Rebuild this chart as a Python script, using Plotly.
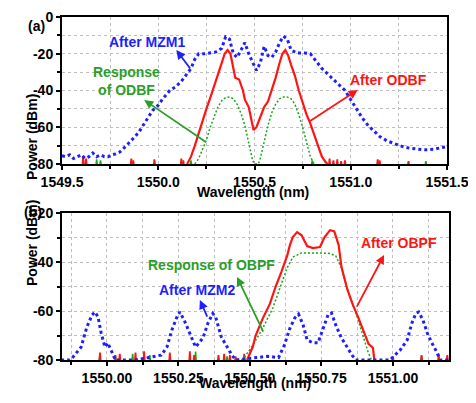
import plotly.graph_objects as go

# ---------------- Panel (a) data ----------------
a_blue_x = [1549.50, 1549.52, 1549.54, 1549.56, 1549.58, 1549.60, 1549.62, 1549.64, 1549.66, 1549.68,
            1549.70, 1549.72, 1549.74, 1549.76, 1549.78, 1549.80, 1549.83, 1549.85, 1549.88, 1549.90,
            1549.94, 1549.97, 1550.00, 1550.02, 1550.06, 1550.09, 1550.12, 1550.15, 1550.17, 1550.19,
            1550.21, 1550.24, 1550.27, 1550.30, 1550.33, 1550.35, 1550.37, 1550.39, 1550.41, 1550.43,
            1550.45, 1550.47, 1550.49, 1550.51, 1550.53, 1550.55, 1550.57, 1550.59, 1550.61, 1550.63,
            1550.65, 1550.67, 1550.69, 1550.72, 1550.76, 1550.79, 1550.82, 1550.85, 1550.88, 1550.91,
            1550.94, 1550.97, 1551.00, 1551.03, 1551.06, 1551.09, 1551.12, 1551.15, 1551.19, 1551.23,
            1551.27, 1551.31, 1551.35, 1551.39, 1551.43, 1551.47, 1551.50]
a_blue_y = [-75.5, -76, -75, -77, -76, -75, -77, -76, -74, -76,
            -75, -76, -76, -75, -74.5, -73.5, -70.5, -68.5, -65, -62.5,
            -56, -51, -48, -45, -40, -38, -35, -31, -28, -23,
            -20, -20, -19.5, -19, -17, -10.8, -12, -20, -22, -18,
            -14, -20, -25, -29, -25, -16, -21, -22, -19, -14,
            -10.5, -12, -18, -19.6, -19.6, -20, -24, -28, -31, -34,
            -37, -40, -45, -50, -55, -59, -62, -65, -67.5, -69,
            -70.5, -71.5, -72, -72.3, -72, -71, -70.5]

a_red_x = [1550.15, 1550.17, 1550.19, 1550.21, 1550.23, 1550.25, 1550.27, 1550.29, 1550.31, 1550.33,
           1550.345, 1550.36, 1550.375, 1550.39, 1550.40, 1550.42, 1550.44, 1550.45, 1550.47, 1550.48,
           1550.495, 1550.51, 1550.53, 1550.55, 1550.57, 1550.59, 1550.61, 1550.63, 1550.645, 1550.66,
           1550.675, 1550.69, 1550.71, 1550.73, 1550.75, 1550.77, 1550.79, 1550.81, 1550.83, 1550.85,
           1550.87, 1550.88]
a_red_y = [-80, -76, -70, -63, -56, -50, -44, -38, -31, -25,
           -20, -18, -20, -27, -33, -34, -40, -45, -49, -54,
           -61.5, -60, -54, -49, -46, -40, -33, -25, -20, -18,
           -21, -26, -32, -40, -47, -53, -58, -64, -70, -76,
           -79, -80]

a_green_x = [1550.19, 1550.21, 1550.23, 1550.25, 1550.27, 1550.29, 1550.31, 1550.33, 1550.35, 1550.37,
             1550.39, 1550.41, 1550.43, 1550.45, 1550.47, 1550.49, 1550.50, 1550.52, 1550.53, 1550.55,
             1550.57, 1550.59, 1550.61, 1550.63, 1550.65, 1550.67, 1550.69, 1550.71, 1550.73, 1550.75,
             1550.77, 1550.79, 1550.81]
a_green_y = [-80, -77, -72, -67, -60, -54, -49, -45.5, -43.8, -43.5,
             -44.5, -47.5, -52.5, -59, -68, -78, -80, -80, -77, -68,
             -59, -52, -47.5, -44.5, -43.5, -43.5, -44.5, -47.5, -53, -60,
             -68, -76, -80]

# noise spikes at the floor (position, peak level)
a_red_spike_x = [1549.61, 1549.625, 1549.86, 1549.87, 1549.98, 1550.12, 1550.13,
                 1550.89, 1550.91, 1550.93, 1550.95, 1550.97, 1551.14, 1551.15, 1551.30]
a_red_spike_h = [-75.5, -77, -77, -78, -77.5, -77, -78,
                 -77, -78, -77.5, -78.5, -78, -77.5, -78, -78.5]
a_green_spike_x = [1549.68, 1549.70, 1550.17, 1550.80, 1551.39]
a_green_spike_h = [-77.5, -78, -78, -78, -78.5]

# ---------------- Panel (b) data ----------------
b_blue_x = [1549.84, 1549.87, 1549.88, 1549.91, 1549.93, 1549.948, 1549.958, 1549.969, 1549.98, 1549.993,
            1550.003, 1550.017, 1550.03, 1550.10, 1550.19, 1550.21, 1550.227, 1550.245, 1550.255, 1550.27,
            1550.29, 1550.31, 1550.336, 1550.353, 1550.37, 1550.38, 1550.40, 1550.42, 1550.437, 1550.45,
            1550.53, 1550.56, 1550.60, 1550.62, 1550.64, 1550.657, 1550.67, 1550.686, 1550.70, 1550.72,
            1550.738, 1550.755, 1550.773, 1550.785, 1550.80, 1550.82, 1550.84, 1550.857, 1550.87, 1550.99,
            1551.007, 1551.025, 1551.05, 1551.066, 1551.08, 1551.09, 1551.105, 1551.12, 1551.136, 1551.153,
            1551.165, 1551.20]
b_blue_y = [-80, -80, -79, -74.7, -66.5, -61.6, -60.4, -62.4, -69, -74.7,
            -73, -76.6, -80, -80, -78, -74.7, -67.8, -62.4, -60.4, -63.7,
            -69, -74.7, -71, -65, -61, -62.4, -70.6, -74.7, -78, -80,
            -79, -78.5, -79, -74, -67, -62.8, -61.3, -65.7, -71.8, -73,
            -73, -67, -61.6, -60.8, -65.7, -71, -75, -78, -80, -80,
            -78, -76, -71.8, -65, -61, -60.4, -63.7, -69, -73, -76.7,
            -80, -80]

b_red_x = [1550.49, 1550.50, 1550.51, 1550.52, 1550.545, 1550.57, 1550.59, 1550.61, 1550.63, 1550.64,
           1550.65, 1550.665, 1550.68, 1550.70, 1550.72, 1550.745, 1550.76, 1550.78, 1550.795, 1550.81,
           1550.82, 1550.84, 1550.86, 1550.88, 1550.90, 1550.915, 1550.93, 1550.935]
b_red_y = [-80, -77, -74.6, -70, -63, -57, -50, -44, -37.5, -33,
           -29.8, -27.8, -29, -33.5, -34.3, -33.9, -30, -27, -27.5, -33,
           -42, -51, -57.5, -63, -69, -73.5, -75, -80]

b_green_x = [1550.47, 1550.48, 1550.51, 1550.545, 1550.58, 1550.605, 1550.63, 1550.65, 1550.68, 1550.745,
             1550.78, 1550.80, 1550.82, 1550.843, 1550.873, 1550.895, 1550.913, 1550.925]
b_green_y = [-80, -79, -74, -67, -58.8, -50.6, -42.4, -38, -36.3, -36.3,
             -36.5, -37.5, -42.4, -52, -61.6, -70, -76.7, -80]

b_red_spike_x = [1549.976, 1550.03, 1550.045, 1550.10, 1550.13, 1550.22, 1550.29, 1550.305,
                 1550.39, 1550.41, 1550.43, 1550.45, 1550.48, 1551.00, 1551.10, 1551.16, 1551.19]
b_red_spike_h = [-77, -78, -77.5, -77, -76.5, -77, -76.5, -78,
                 -78, -77.5, -78, -78.5, -77.5, -78.5, -78, -77.5, -78]
b_green_spike_x = [1549.975, 1550.09, 1550.15, 1550.31, 1550.42, 1551.10]
b_green_spike_h = [-78, -77.5, -78, -76.5, -78.5, -78.5]

BLUE = "rgb(30,30,255)"
RED = "rgb(255,20,20)"
GREEN = "rgb(20,170,20)"
TGREEN = "rgb(40,160,40)"
FONT = "Liberation Sans, Arial, sans-serif"


def spikes(xs, hs, base=-80.0, half=0.003):
    px, py = [], []
    for x, h in zip(xs, hs):
        px += [x - half, x, x + half, None]
        py += [base, h, base, None]
    return px, py


fig = go.Figure()

# panel (a)
sx, sy = spikes(a_green_spike_x, a_green_spike_h)
fig.add_trace(go.Scatter(x=sx, y=sy, mode="lines", line=dict(color=GREEN, width=1.5), xaxis="x", yaxis="y"))
sx, sy = spikes(a_red_spike_x, a_red_spike_h)
fig.add_trace(go.Scatter(x=sx, y=sy, mode="lines", line=dict(color=RED, width=1.8), xaxis="x", yaxis="y"))
fig.add_trace(go.Scatter(x=a_green_x, y=a_green_y, mode="lines",
                         line=dict(color=GREEN, width=1.5, dash="2px,2px"), xaxis="x", yaxis="y"))
fig.add_trace(go.Scatter(x=a_red_x, y=a_red_y, mode="lines",
                         line=dict(color=RED, width=2.2), xaxis="x", yaxis="y"))
fig.add_trace(go.Scatter(x=a_blue_x, y=a_blue_y, mode="lines",
                         line=dict(color=BLUE, width=3, dash="3px,3px"), xaxis="x", yaxis="y"))

# panel (b)
sx, sy = spikes(b_green_spike_x, b_green_spike_h, half=0.002)
fig.add_trace(go.Scatter(x=sx, y=sy, mode="lines", line=dict(color=GREEN, width=1.5), xaxis="x2", yaxis="y2"))
sx, sy = spikes(b_red_spike_x, b_red_spike_h, half=0.002)
fig.add_trace(go.Scatter(x=sx, y=sy, mode="lines", line=dict(color=RED, width=1.8), xaxis="x2", yaxis="y2"))
fig.add_trace(go.Scatter(x=b_green_x, y=b_green_y, mode="lines",
                         line=dict(color=GREEN, width=1.5, dash="2px,2px"), xaxis="x2", yaxis="y2"))
fig.add_trace(go.Scatter(x=b_red_x, y=b_red_y, mode="lines",
                         line=dict(color=RED, width=2.2), xaxis="x2", yaxis="y2"))
fig.add_trace(go.Scatter(x=b_blue_x, y=b_blue_y, mode="lines",
                         line=dict(color=BLUE, width=3, dash="3px,3px"), xaxis="x2", yaxis="y2"))

# The page body has an 8px margin: lay out in window pixels, shifted by that offset.
OFF = 8
W, H = 468, 395


def fx(px):
    return (px - OFF) / W


def fy(py):
    return 1 - (py - OFF) / H


tickfont = dict(family=FONT, size=14, color="black", weight="bold")
GC = "rgb(190,190,190)"
common = dict(showline=True, linecolor="black", linewidth=2, mirror=True, ticks="outside",
              ticklen=4, tickwidth=2, tickcolor="black", tickfont=tickfont, zeroline=False,
              showgrid=True, gridcolor=GC, griddash="dot", gridwidth=1, automargin=False)

a_xticks = [1549.5, 1550.0, 1550.5, 1551.0, 1551.5]
a_xlabels = ["1549.5", "1550.0", "1550.5", "1551.0", "1551.5"]
a_yticks = [-80, -60, -40, -20, 0]
a_ylabels = ["-80", "-60", "-40", "-20", "0"]
b_xticks = [1550.0, 1550.25, 1550.5, 1550.75, 1551.0]
b_xlabels = ["1550.00", "1550.25", "1550.50", "1550.75", "1551.00"]
b_yticks = [-80, -60, -40, -20]
b_ylabels = ["-80", "-60", "-40", "-20"]

minor_x_a = dict(dtick=0.25, tick0=1549.5, showgrid=True, gridcolor=GC, griddash="dot",
                 ticks="outside", ticklen=3, tickwidth=2, tickcolor="black")
minor_y = dict(dtick=10, showgrid=True, gridcolor=GC, griddash="dot",
               ticks="outside", ticklen=3, tickwidth=2, tickcolor="black")
minor_x_b = dict(dtick=0.125, tick0=1550.0, showgrid=True, gridcolor=GC, griddash="dot",
                 ticks="outside", ticklen=3, tickwidth=2, tickcolor="black")

fig.update_layout(
    template="none",
    width=W, height=H, autosize=False, showlegend=False,
    margin=dict(l=0, r=0, t=0, b=0, pad=0),
    paper_bgcolor="white", plot_bgcolor="white",
    xaxis=dict(domain=[fx(62), fx(447)], range=[1549.5, 1551.5], anchor="y",
               tickvals=a_xticks, ticktext=a_xlabels, minor=minor_x_a, **common),
    yaxis=dict(domain=[fy(164), fy(17)], range=[-80, 0], anchor="x",
               tickvals=a_yticks, ticktext=a_ylabels, minor=minor_y, **common),
    xaxis2=dict(domain=[fx(62), fx(449)], range=[1549.843, 1551.196], anchor="y2",
                tickvals=b_xticks, ticktext=b_xlabels, minor=minor_x_b, **common),
    yaxis2=dict(domain=[fy(360), fy(213)], range=[-80, -20], anchor="x2",
                tickvals=b_yticks, ticktext=b_ylabels, minor=minor_y, **common),
)

bold = lambda c, s=14: dict(family=FONT, size=s, color=c, weight="bold")

ann = []
# panel labels and axis titles
ann.append(dict(text="(a)", x=fx(26), y=fy(16), xref="paper", yref="paper", showarrow=False, font=bold("black", 14)))
ann.append(dict(text="(b)", x=fx(22), y=fy(212), xref="paper", yref="paper", showarrow=False, font=bold("black", 14)))
ann.append(dict(text="Power (dBm)", x=fx(22), y=fy(92), xref="paper", yref="paper", showarrow=False,
                textangle=-90, font=bold("black", 14)))
ann.append(dict(text="Power (dBm)", x=fx(22), y=fy(288), xref="paper", yref="paper", showarrow=False,
                textangle=-90, font=bold("black", 14)))
ann.append(dict(text="Wavelength (nm)", x=fx(253), y=fy(192), xref="paper", yref="paper", showarrow=False,
                font=bold("black", 14)))
ann.append(dict(text="Wavelength (nm)", x=fx(255), y=fy(393), xref="paper", yref="paper", showarrow=False,
                font=bold("black", 14)))

# panel (a) labels + arrows
ann.append(dict(text="After MZM1", x=1549.943, y=-13.6, xref="x", yref="y", showarrow=False, font=bold(BLUE)))
ann.append(dict(text="Response<br>of ODBF", x=1549.833, y=-34.8, xref="x", yref="y", showarrow=False,
                font=bold(TGREEN)))
ann.append(dict(text="After ODBF", x=1551.198, y=-34.3, xref="x", yref="y", showarrow=False, font=bold(RED)))
ann.append(dict(text="", x=1550.094, y=-18, ax=1550.172, ay=-28.8, xref="x", yref="y", axref="x", ayref="y",
                showarrow=True, arrowhead=2, arrowsize=1, arrowwidth=1.8, arrowcolor=BLUE))
ann.append(dict(text="", x=1549.927, y=-45.2, ax=1550.255, ay=-68.6, xref="x", yref="y", axref="x", ayref="y",
                showarrow=True, arrowhead=2, arrowsize=1, arrowwidth=1.8, arrowcolor=TGREEN))
ann.append(dict(text="", x=1551.036, y=-39.7, ax=1550.781, ay=-57.1, xref="x", yref="y", axref="x", ayref="y",
                showarrow=True, arrowhead=2, arrowsize=1, arrowwidth=1.8, arrowcolor=RED))

# panel (b) labels + arrows
ann.append(dict(text="Response of OBPF", x=1550.364, y=-41.2, xref="x2", yref="y2", showarrow=False,
                font=bold(TGREEN)))
ann.append(dict(text="After MZM2", x=1550.315, y=-51.4, xref="x2", yref="y2", showarrow=False, font=bold(BLUE)))
ann.append(dict(text="After OBPF", x=1551.021, y=-32.2, xref="x2", yref="y2", showarrow=False, font=bold(RED)))
ann.append(dict(text="", x=1550.455, y=-46.1, ax=1550.549, ay=-69, xref="x2", yref="y2", axref="x2", ayref="y2",
                showarrow=True, arrowhead=2, arrowsize=1, arrowwidth=1.8, arrowcolor=TGREEN))
ann.append(dict(text="", x=1550.325, y=-55.5, ax=1550.353, ay=-62.9, xref="x2", yref="y2", axref="x2", ayref="y2",
                showarrow=True, arrowhead=2, arrowsize=1, arrowwidth=1.8, arrowcolor=BLUE))
ann.append(dict(text="", x=1550.969, y=-37.1, ax=1550.871, ay=-58.8, xref="x2", yref="y2", axref="x2", ayref="y2",
                showarrow=True, arrowhead=2, arrowsize=1, arrowwidth=1.8, arrowcolor=RED))

fig.update_layout(annotations=ann)
fig.write_html("out.html")
